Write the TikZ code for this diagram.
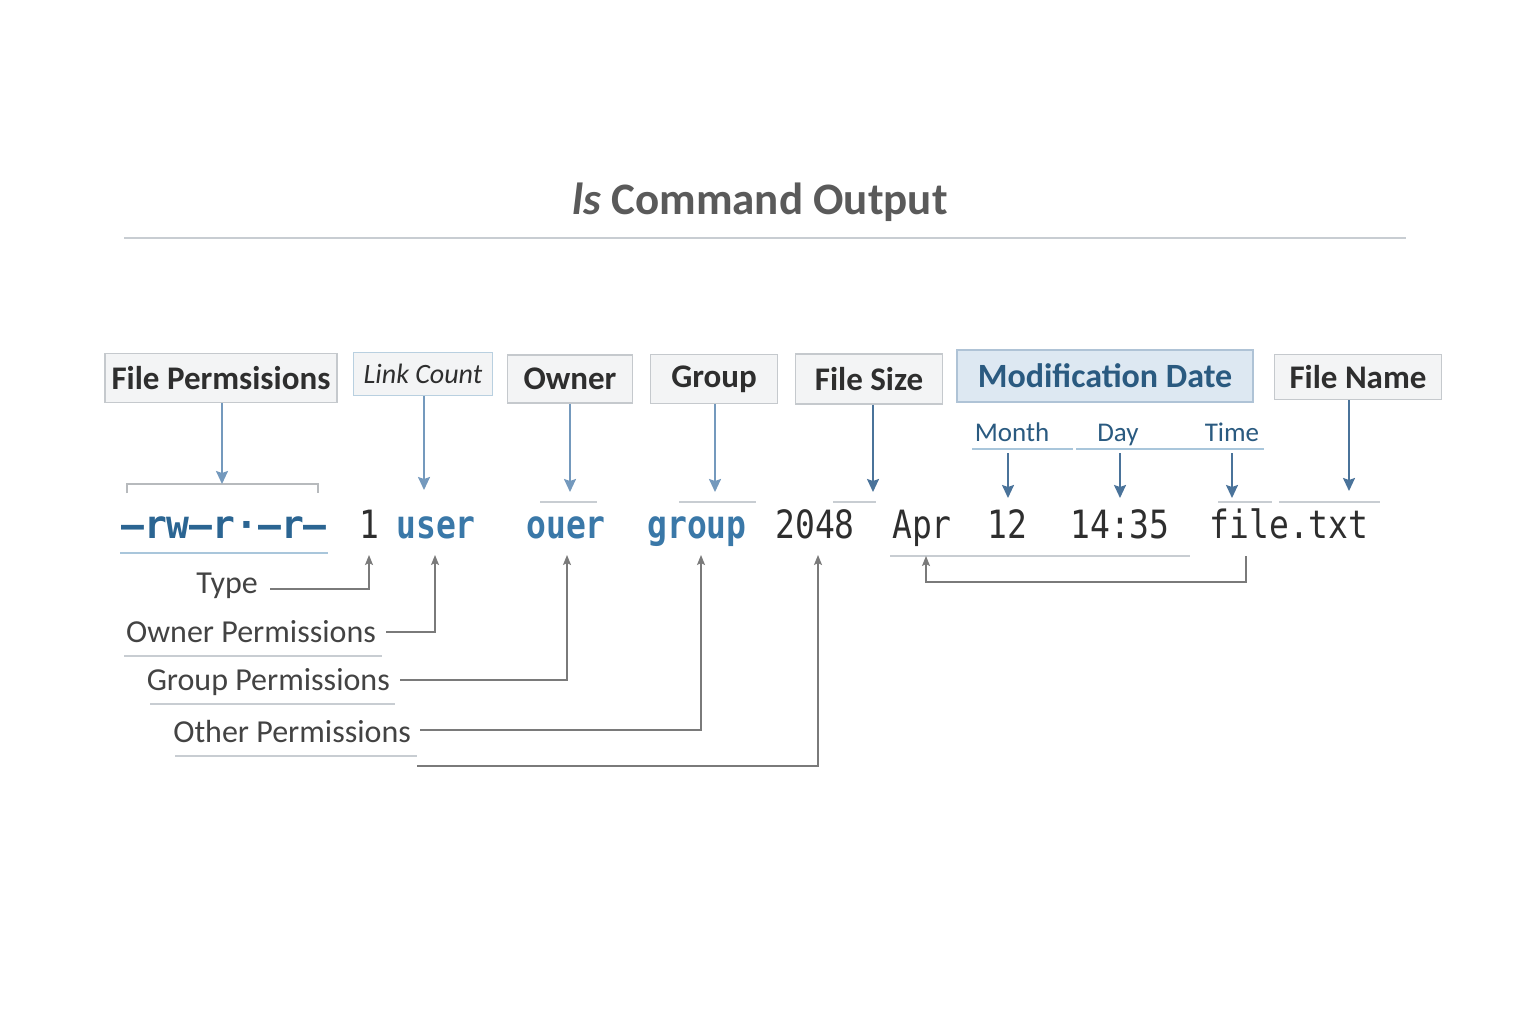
\documentclass[tikz,border=0pt]{standalone}
\usepackage{fontspec}
\setmainfont{Carlito}
\newfontfamily\monof{DejaVu Sans Mono}
\usetikzlibrary{arrows.meta}
\definecolor{boxfill}{HTML}{F3F4F5}
\definecolor{boxline}{HTML}{C5C9CD}
\definecolor{lcline}{HTML}{B9D0E0}
\definecolor{mdfill}{HTML}{DDE8F2}
\definecolor{mdline}{HTML}{AFC3D6}
\definecolor{mdtext}{HTML}{2A5A80}
\definecolor{txtdark}{HTML}{2E2E2E}
\definecolor{titlegray}{HTML}{5A5A5A}
\definecolor{permblue}{HTML}{2B6592}
\definecolor{wordblue}{HTML}{3A78A8}
\definecolor{arrlight}{HTML}{7499BD}
\definecolor{arrdark}{HTML}{4A739A}
\definecolor{grayline}{HTML}{7A7A7A}
\definecolor{rule}{HTML}{C8CDD2}
\definecolor{ruleblue}{HTML}{A9C6DB}
\newcommand{\tall}[1]{\scalebox{1}[1.18]{#1}}
\tikzset{
  lbox/.style={draw=boxline, fill=boxfill, line width=1.2pt, inner sep=0pt,
    font=\fontsize{33}{40}\selectfont\bfseries, text=txtdark},
  monotxt/.style={anchor=base, inner sep=0pt, font=\monof\fontsize{33}{40}\selectfont},
  monob/.style={monotxt, font=\monof\fontsize{33}{40}\selectfont\bfseries},
  sublab/.style={anchor=base, inner sep=0pt, text=mdtext, font=\fontsize{27}{32}\selectfont},
  leftlab/.style={anchor=base east, inner sep=0pt, text=txtdark!90, font=\fontsize{32}{38}\selectfont},
  blarr/.style={draw=arrlight, line width=1.8pt, -{Stealth[length=13pt,width=12pt,inset=2pt]}},
  bdarr/.style={draw=arrdark, line width=1.8pt, -{Stealth[length=13pt,width=12pt,inset=2pt]}},
  grarr/.style={draw=grayline, line width=1.4pt, -{Stealth[length=10pt,width=8pt,inset=2pt]}},
  thinrule/.style={draw=rule, line width=1.3pt},
}
\begin{document}
\begin{tikzpicture}[x=1pt,y=-1pt]
\useasboundingbox[fill=white] (0,0) rectangle (1536,1024);

% title
\node[anchor=base, inner sep=0pt, text=titlegray, font=\fontsize{45}{54}\selectfont\bfseries] (title) at (760,215) {\textit{ls} Command Output};
\draw[thinrule] (124,238) -- (1406,238);

% top boxes
\node[lbox, minimum width=232pt, minimum height=49pt] (fp) at (221,378) {File Permsisions};
\node[lbox, draw=lcline, fill=boxfill, minimum width=139pt, minimum height=43pt, font=\fontsize{28}{34}\selectfont\itshape] (lc) at (423,374) {Link Count};
\node[lbox, minimum width=125pt, minimum height=48pt] (ow) at (570,379) {Owner};
\node[lbox, minimum width=127pt, minimum height=49pt] (gr) at (714,379) {Group};
\node[lbox, minimum width=147pt, minimum height=50pt] (fs) at (869,379) {File Size};
\node[lbox, draw=mdline, fill=mdfill, text=mdtext, minimum width=296pt, minimum height=52pt, font=\fontsize{34}{40}\selectfont\bfseries] (md) at (1105,376) {Modification Date};
\node[lbox, minimum width=167pt, minimum height=45pt] (fn) at (1358,377) {File Name};

% month / day / time
\node[sublab] (mon) at (1012,441) {Month};
\node[sublab] (day) at (1118,441) {Day};
\node[sublab] (tim) at (1232,441) {Time};
\draw[draw=ruleblue, line width=1.3pt] (972,449) -- (1073,449);
\draw[draw=ruleblue, line width=1.3pt] (1076,449) -- (1264,449);

% mono row
\node[monob, text=permblue] (perm) at (224,538) {\scalebox{1.15}[1.18]{—rw–r·–r—}};
\node[monotxt, text=txtdark] (one) at (369,538) {\tall{1}};
\node[monob, text=wordblue] (user) at (436,538) {\tall{user}};
\node[monob, text=wordblue] (ouer) at (566,538) {\tall{ouer}};
\node[monob, text=wordblue] (grp) at (697,538) {\tall{group}};
\node[monotxt, text=txtdark] (size) at (815,538) {\tall{2048}};
\node[monotxt, text=txtdark] (apr) at (922,538) {\tall{Apr}};
\node[monotxt, text=txtdark] (dd) at (1007,538) {\tall{12}};
\node[monotxt, text=txtdark] (tm) at (1120,538) {\tall{14:35}};
\node[monotxt, text=txtdark] (fnm) at (1289,538) {\tall{file.txt}};

% bracket over permissions
\coordinate (brL) at (127,493);
\coordinate (brR) at (318,493);
\coordinate (brT) at (222,484);
\draw[draw=boxline!80!gray, line width=2pt] (brL) -- (127,484) -- (318,484) -- (brR);
\draw[draw=ruleblue, line width=1.3pt] (120,553) -- (328,553);

% small rules above words
\draw[thinrule] (540,502) -- (597,502);
\draw[thinrule] (679,502) -- (756,502);
\draw[thinrule] (833,502) -- (876,502);
\draw[thinrule] (1218,502) -- (1272,502);
\draw[thinrule] (1279,502) -- (1380,502);
\draw[thinrule] (890,556) -- (1190,556);

% down arrows
\coordinate (lcT) at (424,490);
\coordinate (owT) at (570,492);
\coordinate (grT) at (715,492);
\coordinate (fsT) at (873,492);
\coordinate (monT) at (1008,498);
\coordinate (dayT) at (1120,498);
\coordinate (timT) at (1232,498);
\coordinate (fnT) at (1349,491);
\draw[blarr] (fp.south -| brT) -- (brT);
\draw[blarr] (lc.south -| lcT) -- (lcT);
\draw[blarr] (ow.south -| owT) -- (owT);
\draw[blarr] (gr.south -| grT) -- (grT);
\draw[bdarr] (fs.south -| fsT) -- (fsT);
\draw[bdarr] (1008,453) -- (monT);
\draw[bdarr] (1120,453) -- (dayT);
\draw[bdarr] (1232,453) -- (timT);
\draw[bdarr] (fn.south -| fnT) -- (fnT);

% left labels
\node[leftlab] (ty) at (258,593) {Type};
\node[leftlab] (op) at (376,642) {Owner Permissions};
\node[leftlab] (gp) at (390,690) {Group Permissions};
\node[leftlab] (xp) at (411,742) {Other Permissions};
\draw[thinrule] (124,656) -- (382,656);
\draw[thinrule] (150,704) -- (395,704);
\draw[thinrule] (175,756) -- (417,756);

\coordinate (oneB) at (369,555);
\coordinate (userB) at (435,555);
\coordinate (ouerB) at (567,555);
\coordinate (grpB) at (701,555);
\coordinate (sizeB) at (818,555);
\coordinate (aprB) at (926,556);
\coordinate (fnmB) at (1246,556);
\coordinate (lastS) at (417,766);

\draw[grarr] (270,589) -| (oneB);
\draw[grarr] (386,632) -| (userB);
\draw[grarr] (400,680) -| (ouerB);
\draw[grarr] (420,730) -| (grpB);
\draw[grarr] (lastS) -| (sizeB);
\draw[grarr] (fnmB) -- (1246,582) -| (aprB);
\end{tikzpicture}
\end{document}
